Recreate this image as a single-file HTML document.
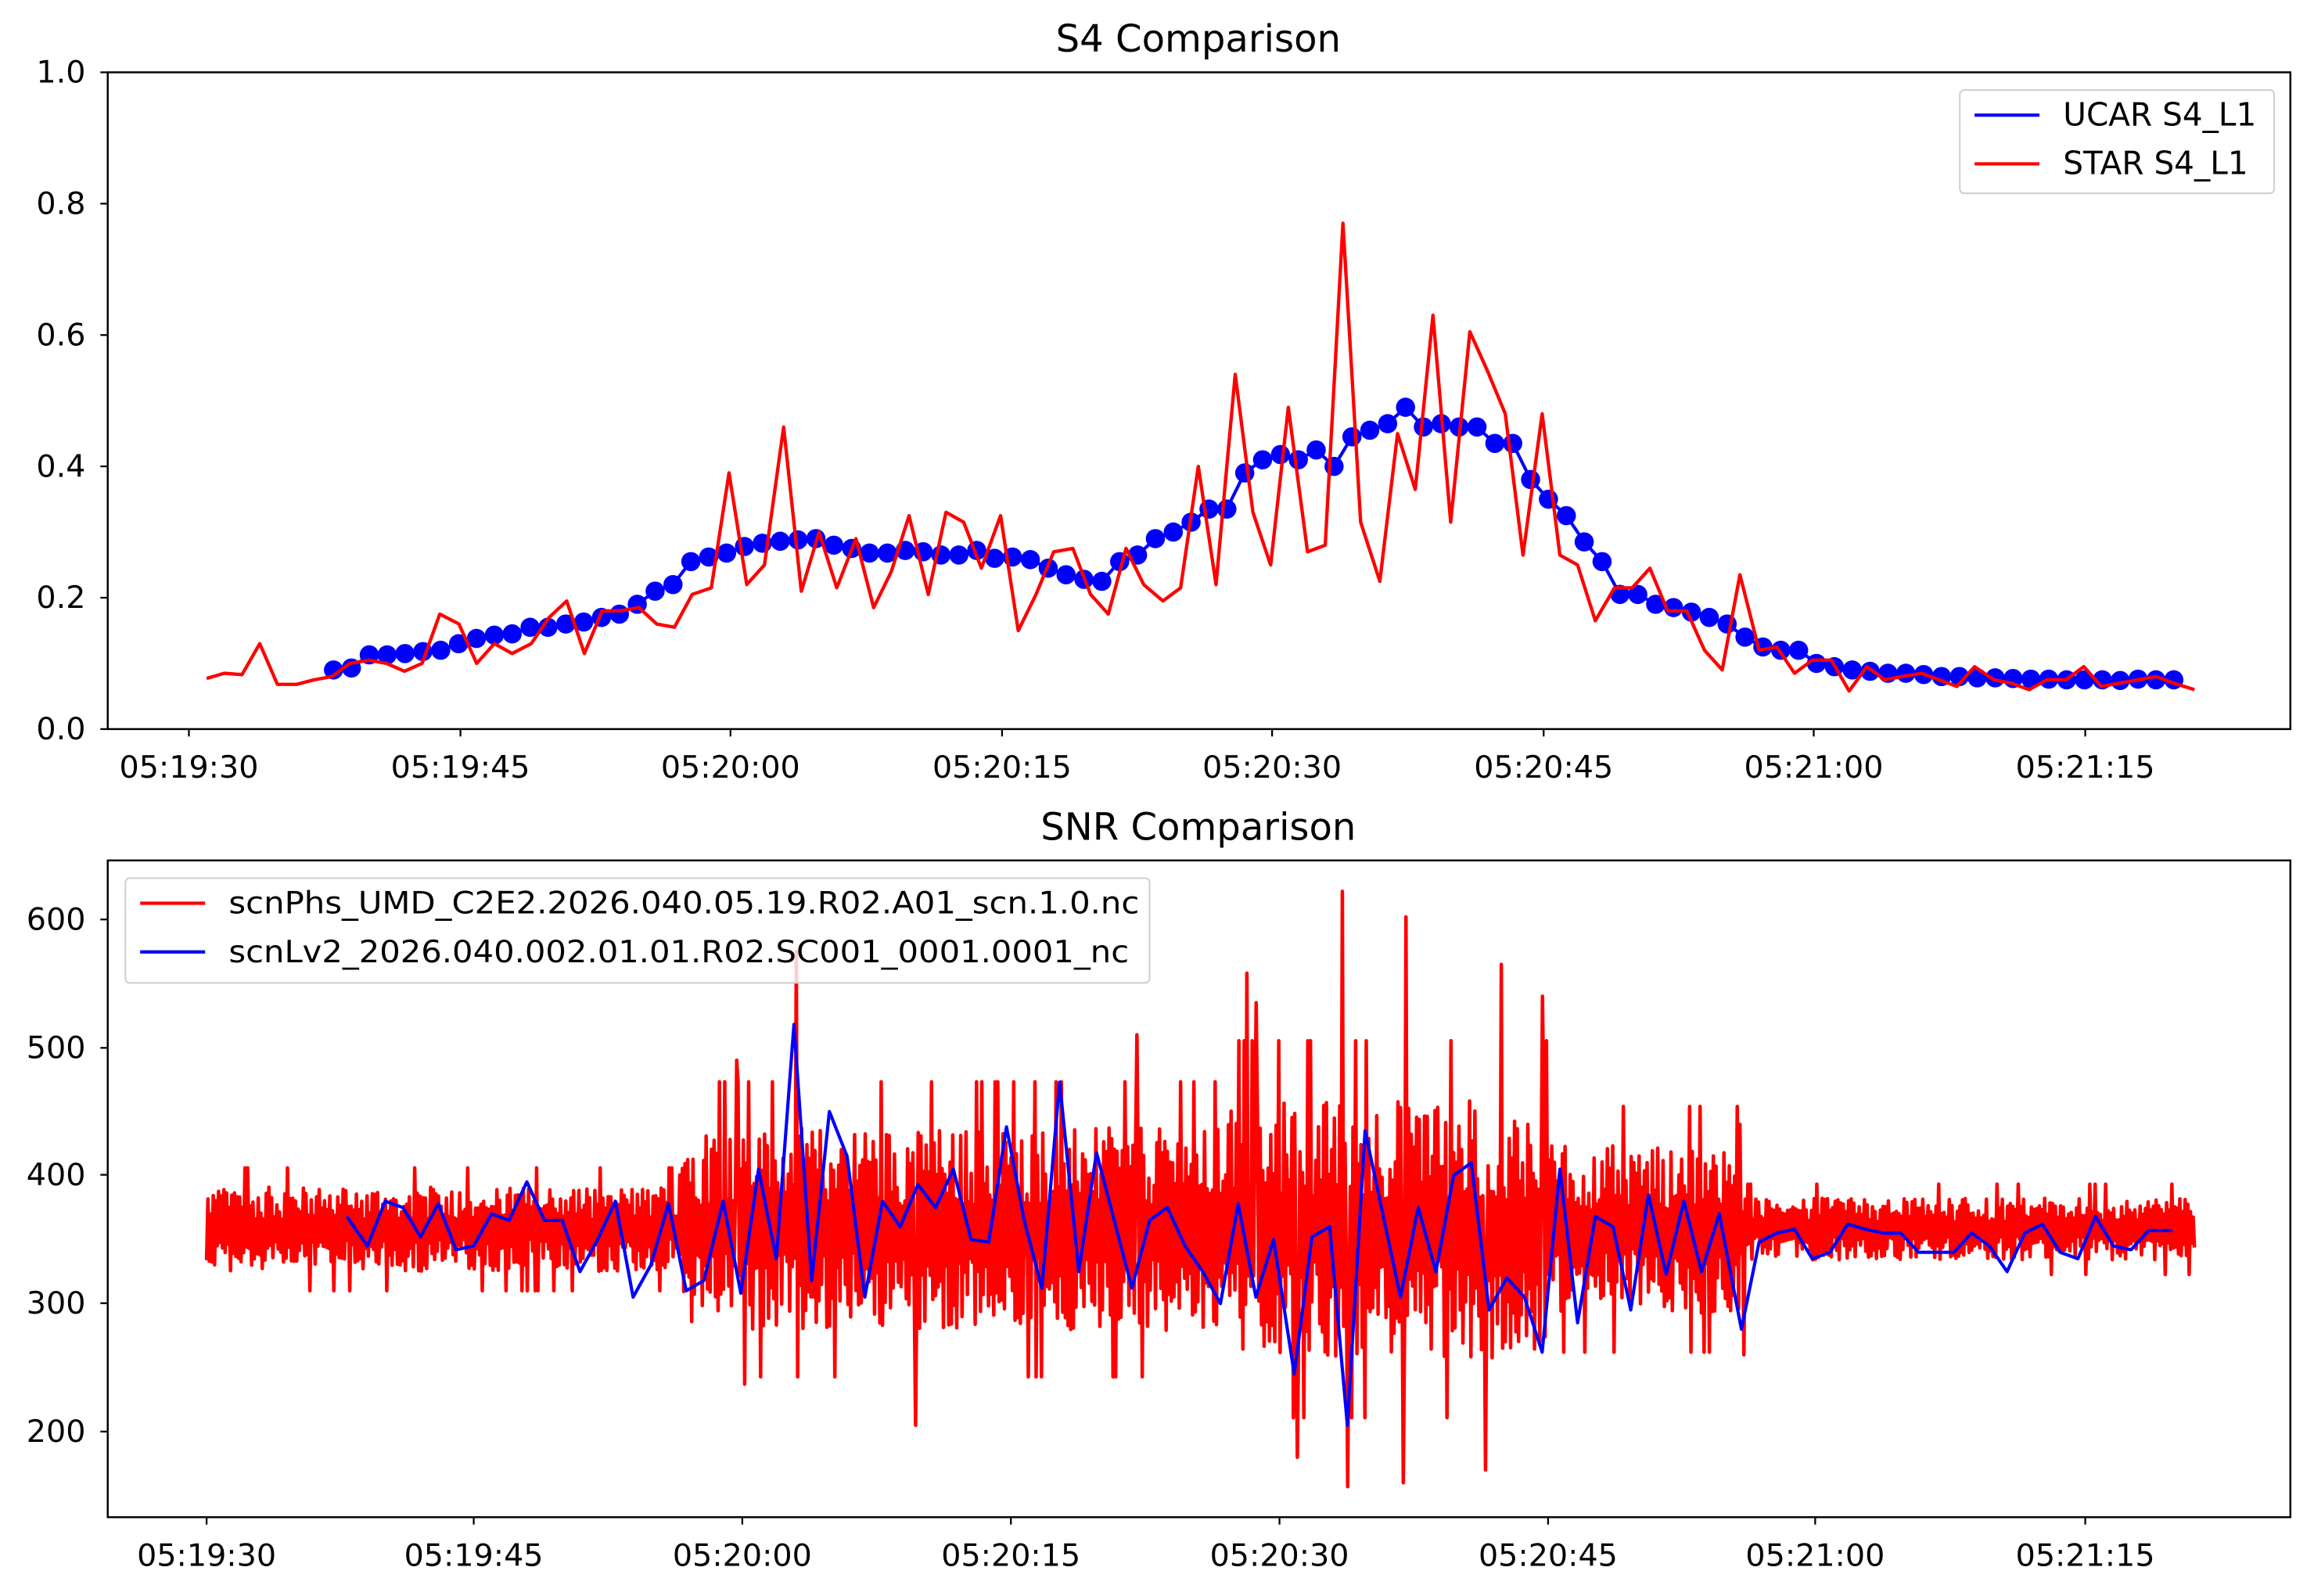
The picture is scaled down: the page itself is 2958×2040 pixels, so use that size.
<!DOCTYPE html>
<html><head><meta charset="utf-8"><style>
html,body{margin:0;padding:0;background:#fff}
svg{display:block}
text{font-family:"DejaVu Sans","Liberation Sans",sans-serif;fill:#000}
</style></head><body>
<svg id="s" width="2958" height="2040" viewBox="0 0 1568 1081.4" preserveAspectRatio="none" xmlns="http://www.w3.org/2000/svg">
<rect width="1568" height="1081.4" fill="#fff"/>
<g id="topg"></g>
<g id="botg"></g>
<rect x="73" y="49" width="1479" height="445" fill="none" stroke="#000" stroke-width="1.3"/>
<text x="812" y="35" font-size="25.5" text-anchor="middle">S4 Comparison</text>
<g font-size="21" text-anchor="end">
<text x="58" y="501">0.0</text><text x="58" y="412">0.2</text><text x="58" y="323">0.4</text><text x="58" y="234">0.6</text><text x="58" y="145">0.8</text><text x="58" y="56">1.0</text>
</g>
<g stroke="#000" stroke-width="1.2">
<line x1="73" x2="68" y1="494" y2="494"/><line x1="73" x2="68" y1="405" y2="405"/><line x1="73" x2="68" y1="316" y2="316"/><line x1="73" x2="68" y1="227" y2="227"/><line x1="73" x2="68" y1="138" y2="138"/><line x1="73" x2="68" y1="49" y2="49"/>
<line x1="128" x2="128" y1="494" y2="499"/><line x1="312" x2="312" y1="494" y2="499"/><line x1="495" x2="495" y1="494" y2="499"/><line x1="679" x2="679" y1="494" y2="499"/><line x1="862" x2="862" y1="494" y2="499"/><line x1="1046" x2="1046" y1="494" y2="499"/><line x1="1229" x2="1229" y1="494" y2="499"/><line x1="1413" x2="1413" y1="494" y2="499"/>
</g>
<g font-size="21" text-anchor="middle">
<text x="128" y="527">05:19:30</text><text x="312" y="527">05:19:45</text><text x="495" y="527">05:20:00</text><text x="679" y="527">05:20:15</text><text x="862" y="527">05:20:30</text><text x="1046" y="527">05:20:45</text><text x="1229" y="527">05:21:00</text><text x="1413" y="527">05:21:15</text>
</g>
<rect x="1328" y="61" width="213" height="70" rx="3" fill="#fff" fill-opacity="0.8" stroke="#ccc"/>
<line x1="1338" x2="1382" y1="78" y2="78" stroke="#00f" stroke-width="2.2"/>
<line x1="1338" x2="1382" y1="111" y2="111" stroke="#f00" stroke-width="2.2"/>
<text x="1398" y="85" font-size="21.5">UCAR S4_L1</text>
<text x="1398" y="118" font-size="21.5">STAR S4_L1</text>
<rect x="73" y="583" width="1479" height="445" fill="none" stroke="#000" stroke-width="1.3"/>
<text x="812" y="569" font-size="25.5" text-anchor="middle">SNR Comparison</text>
<g font-size="21" text-anchor="end">
<text x="58" y="977">200</text><text x="58" y="890">300</text><text x="58" y="803">400</text><text x="58" y="717">500</text><text x="58" y="630">600</text>
</g>
<g stroke="#000" stroke-width="1.2">
<line x1="73" x2="68" y1="970" y2="970"/><line x1="73" x2="68" y1="883" y2="883"/><line x1="73" x2="68" y1="796" y2="796"/><line x1="73" x2="68" y1="710" y2="710"/><line x1="73" x2="68" y1="623" y2="623"/>
<line x1="140" x2="140" y1="1028" y2="1033"/><line x1="321" x2="321" y1="1028" y2="1033"/><line x1="503" x2="503" y1="1028" y2="1033"/><line x1="685" x2="685" y1="1028" y2="1033"/><line x1="867" x2="867" y1="1028" y2="1033"/><line x1="1049" x2="1049" y1="1028" y2="1033"/><line x1="1230" x2="1230" y1="1028" y2="1033"/><line x1="1413" x2="1413" y1="1028" y2="1033"/>
</g>
<g font-size="21" text-anchor="middle">
<text x="140" y="1061">05:19:30</text><text x="321" y="1061">05:19:45</text><text x="503" y="1061">05:20:00</text><text x="685" y="1061">05:20:15</text><text x="867" y="1061">05:20:30</text><text x="1049" y="1061">05:20:45</text><text x="1230" y="1061">05:21:00</text><text x="1413" y="1061">05:21:15</text>
</g>
<rect x="85" y="595" width="694" height="71" rx="3" fill="#fff" fill-opacity="0.8" stroke="#ccc"/>
<line x1="95" x2="139" y1="612" y2="612" stroke="#f00" stroke-width="2.2"/>
<line x1="95" x2="139" y1="645" y2="645" stroke="#00f" stroke-width="2.2"/>
<text x="155" y="619" font-size="21" textLength="617" lengthAdjust="spacingAndGlyphs">scnPhs_UMD_C2E2.2026.040.05.19.R02.A01_scn.1.0.nc</text>
<text x="155" y="652" font-size="21" textLength="610" lengthAdjust="spacingAndGlyphs">scnLv2_2026.040.002.01.01.R02.SC001_0001.0001_nc</text>
</svg>
<script>
(function(){
var NS="http://www.w3.org/2000/svg";
function pl(g,pts,col,w){var p=document.createElementNS(NS,"polyline");p.setAttribute("points",pts.map(function(a){return a[0].toFixed(1)+","+a[1].toFixed(1)}).join(" "));p.setAttribute("fill","none");p.setAttribute("stroke",col);p.setAttribute("stroke-width",w);p.setAttribute("stroke-linejoin","round");g.appendChild(p);}
var tg=document.getElementById("topg"),bg=document.getElementById("botg");
function ty(v){return 494-v*445;}
var bv=[0.09,0.093,0.113,0.113,0.115,0.118,0.12,0.13,0.138,0.143,0.145,0.155,0.155,0.16,0.163,0.17,0.175,0.19,0.21,0.22,0.255,0.262,0.268,0.278,0.283,0.286,0.288,0.29,0.28,0.275,0.268,0.268,0.272,0.27,0.265,0.265,0.272,0.26,0.262,0.258,0.245,0.235,0.228,0.225,0.255,0.265,0.29,0.3,0.315,0.335,0.335,0.39,0.41,0.418,0.41,0.425,0.4,0.445,0.455,0.465,0.49,0.46,0.465,0.46,0.46,0.435,0.435,0.38,0.35,0.325,0.285,0.255,0.205,0.205,0.19,0.185,0.178,0.17,0.16,0.14,0.125,0.12,0.12,0.1,0.095,0.09,0.088,0.085,0.085,0.083,0.08,0.08,0.078,0.078,0.077,0.076,0.076,0.075,0.075,0.075,0.074,0.076,0.075,0.075];
var bp=[],n=bv.length;for(var i=0;i<n;i++){bp.push([226+(1473-226)*i/(n-1),ty(bv[i])]);}
pl(tg,bp,"#00f",2.2);
bp.forEach(function(a){var c=document.createElementNS(NS,"circle");c.setAttribute("cx",a[0]);c.setAttribute("cy",a[1]);c.setAttribute("r",6.5);c.setAttribute("fill","#00f");tg.appendChild(c);});
var rv=[[140,.077],[152,.085],[164,.083],[176,.13],[188,.068],[201,.068],[213,.075],[225,.08],[237,.1],[250,.105],[262,.1],[274,.088],[286,.1],[298,.175],[311,.16],[323,.1],[335,.13],[347,.115],[360,.13],[372,.17],[384,.195],[396,.115],[408,.18],[420,.18],[433,.185],[445,.16],[457,.155],[469,.205],[482,.215],[494,.39],[506,.22],[518,.25],[531,.46],[543,.21],[555,.3],[567,.215],[580,.29],[592,.185],[604,.24],[616,.325],[629,.205],[641,.33],[653,.315],[665,.245],[678,.325],[690,.15],[702,.205],[714,.27],[727,.275],[739,.205],[751,.175],[763,.275],[775,.22],[788,.195],[800,.215],[812,.4],[824,.22],[837,.54],[849,.33],[861,.25],[873,.49],[886,.27],[898,.28],[910,.77],[922,.315],[935,.225],[947,.45],[959,.365],[971,.63],[983,.315],[996,.605],[1008,.545],[1020,.48],[1032,.265],[1045,.48],[1057,.265],[1069,.25],[1081,.165],[1094,.215],[1106,.215],[1118,.245],[1130,.18],[1143,.18],[1155,.12],[1167,.09],[1179,.235],[1192,.12],[1204,.125],[1216,.085],[1228,.105],[1241,.105],[1253,.058],[1265,.095],[1277,.075],[1289,.08],[1302,.085],[1314,.075],[1326,.065],[1338,.095],[1351,.075],[1363,.07],[1375,.06],[1387,.075],[1400,.075],[1412,.095],[1424,.065],[1436,.07],[1449,.075],[1461,.08],[1473,.07],[1487,.06]];
pl(tg,rv.map(function(a){return [a[0],ty(a[1])];}),"#f00",2.3);
function by(v){return 970-(v-200)*0.8675;}
var seed=12345;function rnd(){seed=(seed*1103515245+12345)%2147483648;return seed/2147483648;}
function amp(x){if(x<460)return 30;if(x<830)return 72;if(x<1050)return 92;if(x<1180)return 60;return 22;}
var rp=[];var N=1500;
for(var i=0;i<=N;i++){var x=140+(1487-140)*i/N;var s=(i%2?1:-1);var a=amp(x);var r=rnd();var v=358+s*a*(0.25+0.85*r);if(rnd()<0.05)v=358+s*a*1.6;rp.push([x,by(v)]);}
function spike(x,v){var k=Math.round((x-140)/(1487-140)*N);rp[k][1]=by(v);}
spike(540,575);spike(910,622);spike(913,157);spike(953,602);spike(951,160);spike(620,205);spike(879,180);spike(845,558);spike(1045,540);spike(1017,565);spike(1179,440);spike(1182,260);spike(499,490);spike(505,237);spike(1007,170);spike(851,535);spike(770,510);
pl(bg,rp,"#f00",2.4);
var bl=[[235,368],[249,345],[261,380],[273,375],[285,352],[297,378],[309,342],[321,345],[333,370],[345,365],[357,395],[369,365],[381,365],[393,325],[405,350],[417,380],[429,305],[441,330],[453,378],[465,310],[477,318],[490,380],[502,308],[514,405],[526,335],[538,518],[550,318],[562,450],[574,415],[586,305],[598,380],[610,360],[622,393],[634,375],[646,405],[658,350],[670,348],[682,438],[694,365],[706,312],[718,473],[731,325],[743,418],[755,365],[767,312],[779,365],[791,375],[803,345],[815,325],[827,300],[839,378],[851,305],[863,350],[877,245],[889,352],[901,360],[913,205],[925,435],[937,370],[949,305],[961,375],[973,325],[985,400],[997,410],[1009,295],[1021,320],[1033,305],[1045,262],[1057,405],[1069,285],[1081,368],[1093,360],[1105,295],[1117,385],[1129,323],[1141,380],[1153,325],[1165,370],[1180,280],[1192,348],[1204,355],[1216,358],[1228,335],[1240,340],[1252,362],[1264,358],[1276,355],[1288,355],[1300,340],[1312,340],[1324,340],[1336,355],[1348,345],[1360,325],[1372,355],[1384,362],[1396,340],[1408,335],[1420,368],[1432,345],[1444,342],[1456,357],[1472,357]];
pl(bg,bl.map(function(a){return [a[0],by(a[1])];}),"#00f",2.2);
})();
</script>
</body></html>
